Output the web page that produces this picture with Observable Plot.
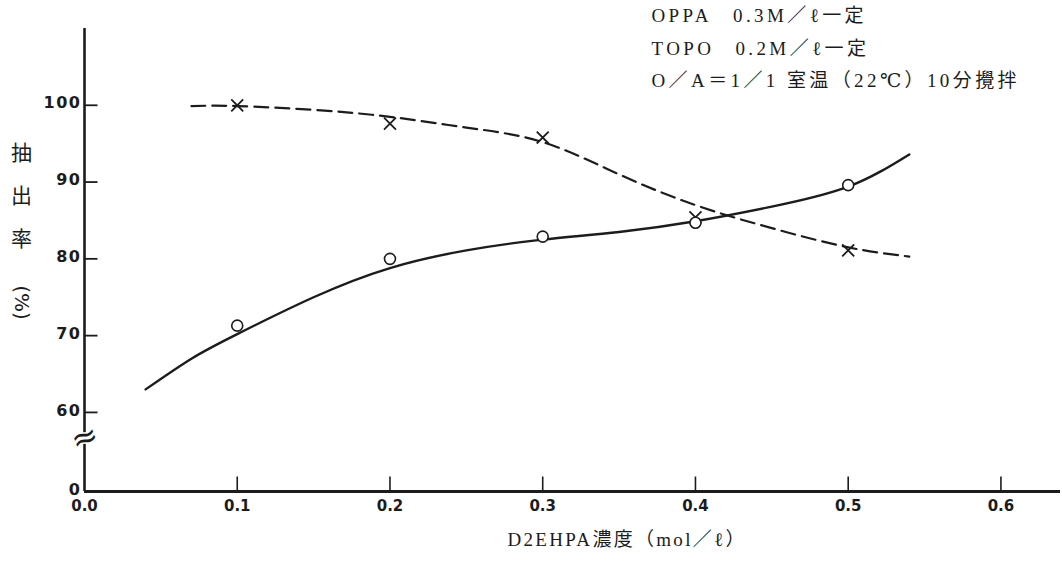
<!DOCTYPE html>
<html><head><meta charset="utf-8">
<script src="https://cdn.jsdelivr.net/npm/d3@7"></script>
<script src="https://cdn.jsdelivr.net/npm/@observablehq/plot@0.6"></script>
<style>
html,body{margin:0;padding:0;background:#fff;}
.notes text, .notes tspan {letter-spacing: 3.4px;}
.xtitle text {letter-spacing: 2.3px;}
.ylab text {letter-spacing: 1.5px;}
</style>
</head><body>
<div id="chart"></div>
<script>
// Measured points (markers)
const conc = [0.1, 0.2, 0.3, 0.4, 0.5];
const circleVals = [71.3, 80.0, 82.9, 84.7, 89.6];   // ○ series (solid curve)
const crossVals  = [100.0, 97.6, 95.8, 85.4, 81.1];  // × series (dashed curve)

// Hand-drawn fitted curves
const solidFitX = [0.04, 0.07, 0.1, 0.15, 0.2, 0.25, 0.3, 0.35, 0.4, 0.45, 0.5, 0.54];
const solidFitY = [63.0, 67.0, 70.2, 75.0, 78.8, 81.1, 82.5, 83.5, 84.9, 86.8, 89.4, 93.6];
const dashFitX  = [0.07, 0.1, 0.15, 0.2, 0.25, 0.3, 0.35, 0.4, 0.45, 0.5, 0.54];
const dashFitY  = [99.9, 99.9, 99.4, 98.5, 97.1, 95.2, 91.0, 87.0, 84.0, 81.5, 80.3];

// Axes
const xTicks = [0.0, 0.1, 0.2, 0.3, 0.4, 0.5, 0.6];
const yTickValues = [0, 60, 70, 80, 90, 100];
const yTickLabels = ["0", "60", "70", "80", "90", "100"];
const breakValue = [56.7];   // position of the ≈ axis-break symbol (display units)

// Texts
const notes = ["OPPA\u2002 0.3M／ℓ一定", "TOPO\u2002 0.2M／ℓ一定", "O／A＝1／1 室温（22℃）10分攪拌"];
const xTitle = "D2EHPA濃度（mol／ℓ）";
const yTitleA = ["抽", "出", "率"];
const yTitleB = "(%)";

// broken y axis: 0 is compressed just below 60
const yPos = v => v >= 60 ? v : 49.7 + v * 0.17;

const solid = solidFitX.map((x, i) => ({x, y: yPos(solidFitY[i])}));
const dashed = dashFitX.map((x, i) => ({x, y: yPos(dashFitY[i])}));
const circles = conc.map((x, i) => ({x, y: yPos(circleVals[i])}));
const crosses = conc.map((x, i) => ({x, y: yPos(crossVals[i])}));
const yTicksPos = yTickValues.map(yPos);

const W = 1062, H = 568, mL = 84, mR = 2, mT = 28, mB = 77;
const xDomain = [0, 0.639], yDomain = [49.7, 110];
const xTickLen = 15 * (yDomain[1] - yDomain[0]) / (H - mT - mB);   // inward tick lengths in data units
const yTickLen = 13 * (xDomain[1] - xDomain[0]) / (W - mL - mR);
const xTickRows = xTicks.slice(1).map(x => ({x, y1: yPos(0), y2: yPos(0) + xTickLen}));
const yTickRows = yTicksPos.slice(1).map(y => ({y, x1: 0, x2: yTickLen}));

const ink = "#1c1c1c";
const serif = "'Liberation Serif','DejaVu Serif','Noto Sans CJK JP',serif";
const sans = "'DejaVu Sans','Liberation Sans',sans-serif";
const cjk = "'Noto Sans CJK JP',sans-serif";

const chart = Plot.plot({
  width: W,
  height: H,
  marginLeft: mL,
  marginRight: mR,
  marginTop: mT,
  marginBottom: mB,
  x: {domain: xDomain},
  y: {domain: yDomain},
  style: {background: "#fff", color: ink, fontFamily: sans},
  marks: [
    // axis lines
    Plot.ruleX([0], {stroke: ink, strokeWidth: 2.6}),
    Plot.ruleY([yPos(0)], {stroke: ink, strokeWidth: 3}),
    // inward ticks
    Plot.link(xTickRows, {x1: "x", x2: "x", y1: "y1", y2: "y2", stroke: ink, strokeWidth: 1.6}),
    Plot.link(yTickRows, {x1: "x1", x2: "x2", y1: "y", y2: "y", stroke: ink, strokeWidth: 1.8}),
    // tick labels
    Plot.axisX(xTicks, {tickSize: 0, tickPadding: 9, tickFormat: d3.format(".1f"), label: null,
      fontSize: 15, fontWeight: "bold", fill: ink}),
    Plot.axisY(yTicksPos, {tickSize: 0, tickPadding: 3, dy: -2, tickFormat: (d, i) => yTickLabels[i], label: null,
      fontSize: 16, fontWeight: "bold", fill: ink, className: "ylab"}),
    // axis break
    Plot.text(breakValue, {x: 0, y: d => d, text: () => "≈", fontSize: 32, rotate: -20,
      fill: ink, stroke: "#fff", strokeWidth: 3, paintOrder: "stroke"}),
    // curves
    Plot.line(dashed, {x: "x", y: "y", curve: "natural", stroke: ink, strokeWidth: 2.2, strokeDasharray: "14,7"}),
    Plot.line(solid, {x: "x", y: "y", curve: "natural", stroke: ink, strokeWidth: 2.4}),
    // markers
    Plot.dot(crosses, {x: "x", y: "y", symbol: "times", r: 5.5, stroke: ink, strokeWidth: 1.8}),
    Plot.dot(circles, {x: "x", y: "y", symbol: "circle", r: 5.5, fill: "#fff", stroke: ink, strokeWidth: 1.6}),
    // annotation
    Plot.text([notes.join("\n")], {frameAnchor: "top-left", dx: 567, dy: -29, text: d => d,
      textAnchor: "start", lineAnchor: "top", lineHeight: 1.7, fontSize: 19,
      fontFamily: serif, fill: ink, className: "notes"}),
    // x title
    Plot.text([xTitle], {frameAnchor: "bottom-left", dx: 507 - 84, dy: 54, text: d => d,
      textAnchor: "start", fontSize: 19, fontFamily: serif, fill: ink, className: "xtitle"}),
    // y title
    Plot.text([yTitleA.join("\n")], {frameAnchor: "top-left", dx: -63, dy: 101, text: d => d,
      textAnchor: "middle", lineAnchor: "top", lineHeight: 2.05, fontSize: 21, fontFamily: cjk, fill: ink}),
    Plot.text([yTitleB], {frameAnchor: "top-left", dx: -55, dy: 274, text: d => d,
      textAnchor: "middle", rotate: 90, fontSize: 20, fontFamily: "'DejaVu Sans',sans-serif", fill: ink})
  ]
});
document.getElementById("chart").appendChild(chart);
</script>
</body></html>
